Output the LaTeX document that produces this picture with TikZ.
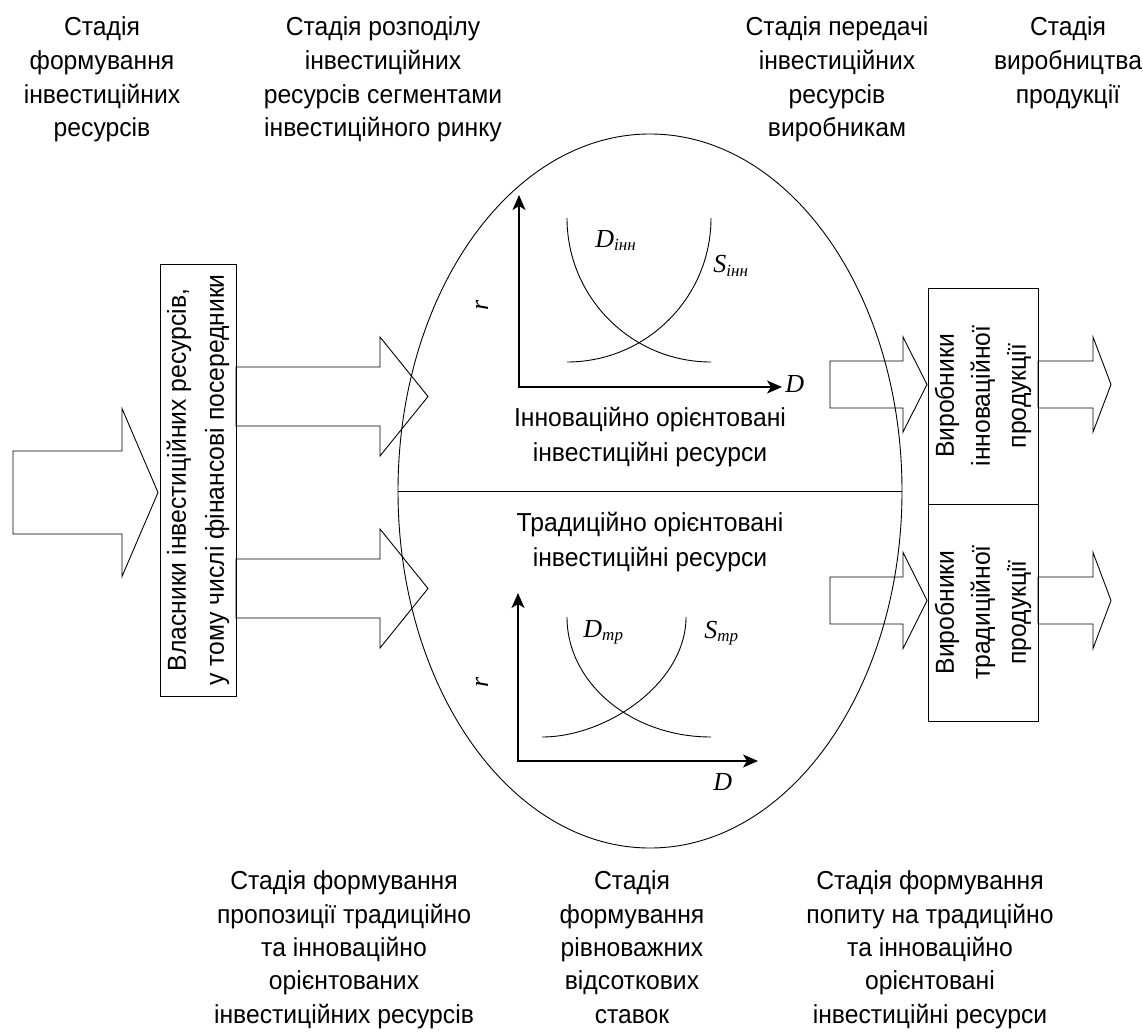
\documentclass[tikz,border=0pt]{standalone}
\usepackage{fontspec}
\setmainfont[FakeStretch=0.95]{Liberation Sans}
\newfontfamily\tnr{Liberation Serif}
\usetikzlibrary{arrows.meta,shapes.geometric}
\newcommand\blockarrow[6]{%
  \draw[fatarrow] (#1,#4-#5) -- (#2,#4-#5) -- (#2,#4-#6) -- (#3,#4) -- (#2,#4+#6) -- (#2,#4+#5) -- (#1,#4+#5) -- cycle;}
\newcommand\gsub[1]{\raisebox{-3pt}{\fontsize{17}{17}\selectfont #1}}
\begin{document}
\begin{tikzpicture}[x=1pt,y=-1pt,line width=0.9pt,
  lbl/.style={anchor=base,align=center,inner sep=0pt,font=\fontsize{26}{33.7}\selectfont},
  boxlbl/.style={draw,rotate=90,align=center,inner sep=0pt},
  fatarrow/.style={draw,line join=miter},
  axis/.style={line width=1.2pt,{Stealth[length=15pt,width=13pt,inset=4pt]}-{Stealth[length=15pt,width=13pt,inset=4pt]}},
  curve/.style={line width=0.9pt},
  glbl/.style={anchor=base west,inner sep=0pt,font=\tnr\itshape\fontsize{26}{26}\selectfont}]
\useasboundingbox (0,0) rectangle (1143,1032);

% stage headings (anchor = baseline of the last line)
\node[lbl] (h1) at (102,137) {Стадія\\формування\\інвестиційних\\ресурсів};
\node[lbl] (h2) at (383,137) {Стадія розподілу\\інвестиційних\\ресурсів сегментами\\інвестиційного ринку};
\node[lbl] (h3) at (837,137) {Стадія передачі\\інвестиційних\\ресурсів\\виробникам};
\node[lbl] (h4) at (1068,103.4) {Стадія\\виробництва\\продукції};

\node[lbl,font=\fontsize{26}{33.3}\selectfont] (b1) at (344,1023) {Стадія формування\\пропозиції традиційно\\та інноваційно\\орієнтованих\\інвестиційних ресурсів};
\node[lbl,font=\fontsize{26}{33.3}\selectfont] (b2) at (632,1023) {Стадія\\формування\\рівноважних\\відсоткових\\ставок};
\node[lbl,font=\fontsize{26}{33.3}\selectfont] (b3) at (930,1023) {Стадія формування\\попиту на традиційно\\та інноваційно\\орієнтовані\\інвестиційні ресурси};

% owners box
\node[boxlbl,minimum width=432pt,minimum height=76pt,font=\fontsize{26}{38}\selectfont] (own) at (198,480)
  {Власники інвестиційних ресурсів,\\у тому числі фінансові посередники};

% market ellipse
\node[draw,ellipse,minimum width=504pt,minimum height=714pt,inner sep=0pt] (mkt) at (650,491) {};
\draw (mkt.west) -- (mkt.east);
\node[lbl,font=\fontsize{26}{35}\selectfont] (inn) at (650,461) {Інноваційно орієнтовані\\інвестиційні ресурси};
\node[lbl,font=\fontsize{26}{35}\selectfont] (trd) at (650,566) {Традиційно орієнтовані\\інвестиційні ресурси};

% producers
\node[boxlbl,minimum width=216pt,minimum height=110pt,font=\fontsize{26}{36}\selectfont] (pinn) at (983,396)
  {Виробники\\інноваційної\\продукції};
\node[boxlbl,minimum width=217pt,minimum height=110pt,font=\fontsize{26}{36}\selectfont] (ptrd) at (983,612.5)
  {Виробники\\традиційної\\продукції};

% block arrows
\blockarrow{13}{122}{158}{492.5}{41.5}{84}
\blockarrow{236}{380}{428}{396.5}{29.5}{59.5}
\blockarrow{236}{380}{428}{588.5}{29.5}{59.5}
\blockarrow{830}{903}{927}{384.5}{23.5}{47.5}
\blockarrow{830}{903}{927}{600.5}{23.5}{48}
\blockarrow{1038}{1093}{1111}{384.5}{23.5}{47.5}
\blockarrow{1038}{1093}{1111}{600.5}{23.5}{48}

% upper graph
\coordinate (ya) at (519,195);
\coordinate (xa) at (782,387);
\draw[axis] (ya) |- (xa);
\draw[curve] (567,218) .. controls (567,297.5) and (631.5,362) .. (711,362);
\draw[curve] (711,218) .. controls (711,297.5) and (646.5,362) .. (567,362);
\node[glbl] (dinn) at (595,248) {D\gsub{інн}};
\node[glbl] (sinn) at (713,273) {S\gsub{інн}};
\node[glbl] (xla) at (785,392) {D};
\node[glbl,anchor=center,rotate=90] (ra) at (482,305) {r};

% lower graph
\coordinate (yb) at (518,593);
\coordinate (xb) at (758,761);
\draw[axis] (yb) |- (xb);
\draw[curve] (567,617) .. controls (567,683.3) and (631.5,737) .. (711,737);
\draw[curve] (686,617) .. controls (686,683.3) and (606.5,737) .. (542,737);
\node[glbl] (dtr) at (583,637) {D\gsub{тр}};
\node[glbl] (str) at (704,638) {S\gsub{тр}};
\node[glbl] (xlb) at (713,790) {D};
\node[glbl,anchor=center,rotate=90] (rb) at (482,682) {r};
\end{tikzpicture}
\end{document}
